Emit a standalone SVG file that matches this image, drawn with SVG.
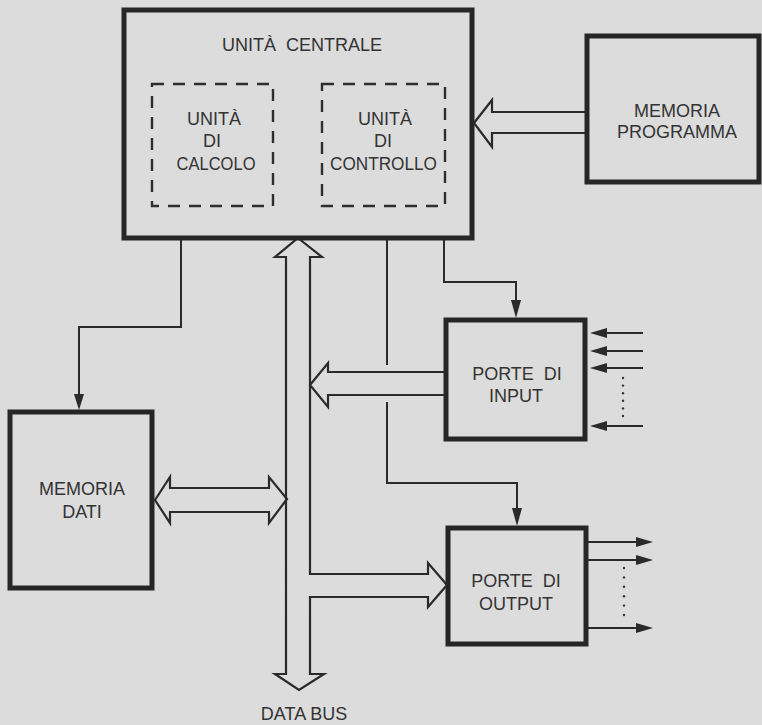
<svg xmlns="http://www.w3.org/2000/svg" width="762" height="725" viewBox="0 0 762 725">
  <style>
    .box { fill: none; stroke: #262626; stroke-width: 5; }
    .dash { fill: none; stroke: #2e2e2e; stroke-width: 2.4; stroke-dasharray: 12 9; }
    .lbl { font-family: "Liberation Sans", Arial, sans-serif; font-size: 18px; fill: #333; text-anchor: middle; }
    .wire { fill: none; stroke: #2a2a2a; stroke-width: 2; }
    .hollow { fill: none; stroke: #2a2a2a; stroke-width: 2.2; stroke-linejoin: miter; }
    .head { fill: #2a2a2a; stroke: none; }
    .dot { fill: #333; }
  </style>
  <rect x="0" y="0" width="762" height="725" fill="#dcdcdc"/>

  <g id="connectors">
    <!-- data bus with branch to output ports -->
    <path class="hollow" d="M298,238 L322,257 L310,257 L310,574 L428,574 L428,563 L447,585 L428,607 L428,597 L310,597 L310,674 L324,674 L299,690 L275,674 L286,674 L286,257 L275,257 Z"/>
    <!-- memoria programma -> CPU -->
    <path class="hollow" d="M474,123 L492,100 L492,112 L587,112 L587,133 L492,133 L492,147 Z"/>
    <!-- porte di input -> bus -->
    <path class="hollow" d="M310,385 L328,363 L328,372 L446,372 L446,395 L328,395 L328,407 Z"/>
    <!-- memoria dati <-> bus -->
    <path class="hollow" d="M155,500 L170,477 L170,488 L269,488 L269,477 L287,499 L269,523 L269,512 L170,512 L170,523 Z"/>

    <!-- control lines -->
    <path class="wire" d="M181,240 V327 H79 V396"/>
    <polygon class="head" points="74,394 84,394 79,410"/>
    <path class="wire" d="M444,240 V282 H516 V302"/>
    <polygon class="head" points="511,300 521,300 516,318"/>
    <path class="wire" d="M387,240 V365"/>
    <path class="wire" d="M387,402 V483 H517 V510"/>
    <polygon class="head" points="512,508 522,508 517,526"/>

    <!-- input lines -->
    <path class="wire" d="M643,333 H605 M643,351 H605 M643,368 H605 M643,426 H605"/>
    <polygon class="head" points="590,333 607,328 607,338"/>
    <polygon class="head" points="590,351 607,346 607,356"/>
    <polygon class="head" points="590,368 607,363 607,373"/>
    <polygon class="head" points="590,426 607,421 607,431"/>
    <circle class="dot" cx="623" cy="378" r="1.2"/>
    <circle class="dot" cx="623" cy="385.6" r="1.2"/>
    <circle class="dot" cx="623" cy="393.2" r="1.2"/>
    <circle class="dot" cx="623" cy="400.8" r="1.2"/>
    <circle class="dot" cx="623" cy="408.4" r="1.2"/>
    <circle class="dot" cx="623" cy="416" r="1.2"/>

    <!-- output lines -->
    <path class="wire" d="M588,542 H638 M588,560 H638 M588,628 H638"/>
    <polygon class="head" points="653,542 636,537 636,547"/>
    <polygon class="head" points="653,560 636,555 636,565"/>
    <polygon class="head" points="653,628 636,623 636,633"/>
    <circle class="dot" cx="624" cy="568" r="1.2"/>
    <circle class="dot" cx="624" cy="577.4" r="1.2"/>
    <circle class="dot" cx="624" cy="586.8" r="1.2"/>
    <circle class="dot" cx="624" cy="596.2" r="1.2"/>
    <circle class="dot" cx="624" cy="605.6" r="1.2"/>
    <circle class="dot" cx="624" cy="615" r="1.2"/>
  </g>

  <g id="unita-centrale">
    <rect class="box" x="124" y="10" width="348" height="228"/>
    <text class="lbl" x="302" y="51" xml:space="preserve">UNITÀ  CENTRALE</text>
  </g>

  <g id="unita-calcolo">
    <rect class="dash" x="152" y="84" width="121" height="122"/>
    <text class="lbl" x="214" y="125">UNITÀ</text>
    <text class="lbl" x="212" y="147">DI</text>
    <text class="lbl" x="216" y="170" textLength="79" lengthAdjust="spacingAndGlyphs">CALCOLO</text>
  </g>

  <g id="unita-controllo">
    <rect class="dash" x="322" y="84" width="123" height="122"/>
    <text class="lbl" x="385" y="125">UNITÀ</text>
    <text class="lbl" x="383" y="147">DI</text>
    <text class="lbl" x="383.5" y="170" textLength="107" lengthAdjust="spacingAndGlyphs">CONTROLLO</text>
  </g>

  <g id="memoria-programma">
    <rect class="box" x="587" y="36" width="172" height="146"/>
    <text class="lbl" x="677" y="117">MEMORIA</text>
    <text class="lbl" x="677" y="138">PROGRAMMA</text>
  </g>

  <g id="memoria-dati">
    <rect class="box" x="10" y="412" width="142" height="176"/>
    <text class="lbl" x="82" y="495">MEMORIA</text>
    <text class="lbl" x="82" y="518">DATI</text>
  </g>

  <g id="porte-input">
    <rect class="box" x="446" y="320" width="139" height="119"/>
    <text class="lbl" x="517" y="380" xml:space="preserve">PORTE  DI</text>
    <text class="lbl" x="516" y="402">INPUT</text>
  </g>

  <g id="porte-output">
    <rect class="box" x="448" y="528" width="138" height="116"/>
    <text class="lbl" x="516" y="587" xml:space="preserve">PORTE  DI</text>
    <text class="lbl" x="516" y="610">OUTPUT</text>
  </g>

  <g id="data-bus-label">
    <text class="lbl" x="304" y="720">DATA BUS</text>
  </g>
</svg>
